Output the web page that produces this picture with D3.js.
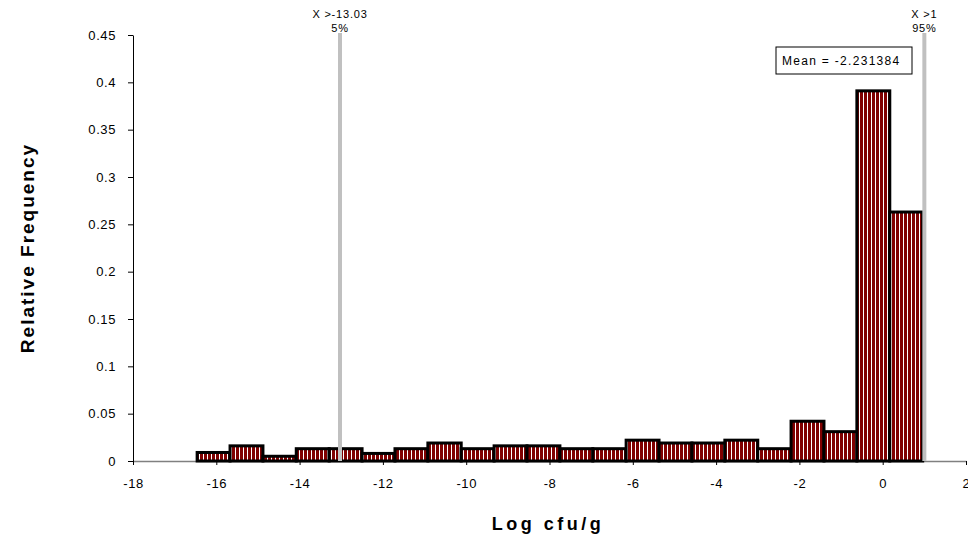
<!DOCTYPE html>
<html>
<head>
<meta charset="utf-8">
<script src="https://cdn.jsdelivr.net/npm/d3@7"></script>
<style>
  body { margin: 0; background: #fff; }
  svg { display: block; font-family: "Liberation Sans", Arial, sans-serif; }
</style>
</head>
<body>
<svg id="chart" width="968" height="539"></svg>
<script>
// Bin edges of the histogram (Log cfu/g)
const binEdges = [-16.46, -15.67, -14.88, -14.08, -13.29, -12.50, -11.71, -10.92, -10.12, -9.33, -8.54, -7.75,
  -6.96, -6.16, -5.37, -4.58, -3.79, -3.00, -2.20, -1.41, -0.62, 0.17, 0.96];
// Relative frequency of each bin
const frequencies = [0.009, 0.016, 0.005, 0.013, 0.013, 0.008, 0.013, 0.019, 0.013, 0.016, 0.016,
  0.013, 0.013, 0.022, 0.019, 0.019, 0.022, 0.013, 0.042, 0.031, 0.391, 0.263];

const xTicks = [-18, -16, -14, -12, -10, -8, -6, -4, -2, 0, 2];
const yTicks = [0, 0.05, 0.1, 0.15, 0.2, 0.25, 0.3, 0.35, 0.4, 0.45];

// Percentile markers
const markerValues = [-13.03, 1];
const markerLabels = ['X >-13.03', 'X >1'];
const markerPercents = ['5%', '95%'];

const meanValue = -2.231384;

const svg = d3.select('#chart');
const width = 968, height = 539;
const margin = { top: 35, right: 2, bottom: 78, left: 133 };
const chartWidth = width - margin.left - margin.right;
const chartHeight = height - margin.top - margin.bottom;

svg.append('rect').attr('width', width).attr('height', height).attr('fill', '#fff');

// Striped bar fill
const defs = svg.append('defs');
const pattern = defs.append('pattern')
  .attr('id', 'stripes')
  .attr('patternUnits', 'userSpaceOnUse')
  .attr('width', 4)
  .attr('height', 10);
pattern.append('rect').attr('width', 4).attr('height', 10).attr('fill', '#800000');
pattern.append('rect').attr('x', 2).attr('width', 1).attr('height', 10).attr('fill', '#fff');

const g = svg.append('g').attr('transform', `translate(${margin.left}, ${margin.top})`);

const xScale = d3.scaleLinear().domain([-18, 2]).range([0, chartWidth]);
const yScale = d3.scaleLinear().domain([0, 0.45]).range([chartHeight, 0]);

// Axes
const xAxis = g.append('g')
  .attr('transform', `translate(0, ${chartHeight})`)
  .call(d3.axisBottom(xScale).tickValues(xTicks).tickSize(4).tickPadding(14).tickSizeOuter(0)
    .tickFormat(d => String(d)));
xAxis.select('.domain').attr('stroke', '#808080').attr('stroke-width', 1.5);
xAxis.selectAll('.tick line').attr('stroke', '#000');
xAxis.selectAll('.tick text')
  .attr('font-size', 13)
  .style('letter-spacing', '0.6px')
  .style('fill', '#000');

const yAxis = g.append('g')
  .call(d3.axisLeft(yScale).tickValues(yTicks).tickSize(5).tickPadding(12).tickSizeOuter(0)
    .tickFormat(d => String(+d.toFixed(2))));
yAxis.select('.domain').attr('stroke', '#000');
yAxis.selectAll('.tick text')
  .attr('font-size', 13)
  .style('letter-spacing', '0.6px')
  .style('fill', '#000');

// Bars
g.append('g')
  .selectAll('rect')
  .data(frequencies)
  .enter()
  .append('rect')
  .attr('x', (d, i) => xScale(binEdges[i]))
  .attr('width', (d, i) => xScale(binEdges[i + 1]) - xScale(binEdges[i]))
  .attr('y', d => yScale(d))
  .attr('height', d => yScale(0) - yScale(d))
  .attr('fill', 'url(#stripes)')
  .attr('stroke', '#000')
  .attr('stroke-width', 3);

// Percentile lines
g.append('g')
  .selectAll('line')
  .data(markerValues)
  .enter()
  .append('line')
  .attr('x1', d => xScale(d))
  .attr('x2', d => xScale(d))
  .attr('y1', -2)
  .attr('y2', chartHeight)
  .attr('stroke', '#c0c0c0')
  .attr('stroke-width', 4);

const labels = g.append('g').selectAll('g')
  .data(markerValues)
  .enter()
  .append('g')
  .attr('transform', d => `translate(${xScale(d)}, 0)`);
labels.append('text')
  .attr('y', -17)
  .attr('text-anchor', 'middle')
  .style('font-size', '11px')
  .style('letter-spacing', '0.8px')
  .text((d, i) => markerLabels[i]);
labels.append('text')
  .attr('y', -3)
  .attr('text-anchor', 'middle')
  .style('font-size', '11px')
  .style('letter-spacing', '0.8px')
  .text((d, i) => markerPercents[i]);

// Mean box
const meanBox = svg.append('g').attr('transform', 'translate(776, 47)');
meanBox.append('rect')
  .attr('width', 136)
  .attr('height', 27)
  .attr('fill', '#fff')
  .attr('stroke', '#000')
  .attr('stroke-width', 1);
meanBox.append('text')
  .attr('x', 6)
  .attr('y', 18)
  .style('font-size', '12px')
  .style('letter-spacing', '1.3px')
  .text(`Mean = ${meanValue}`);

// Axis titles
svg.append('text')
  .attr('transform', `translate(34, 248) rotate(-90)`)
  .attr('text-anchor', 'middle')
  .style('font-size', '19px')
  .style('font-weight', 'bold')
  .style('letter-spacing', '2px')
  .text('Relative Frequency');

svg.append('text')
  .attr('x', 548)
  .attr('y', 530)
  .attr('text-anchor', 'middle')
  .style('font-size', '18px')
  .style('font-weight', 'bold')
  .style('letter-spacing', '3.5px')
  .text('Log cfu/g');
</script>
</body>
</html>
